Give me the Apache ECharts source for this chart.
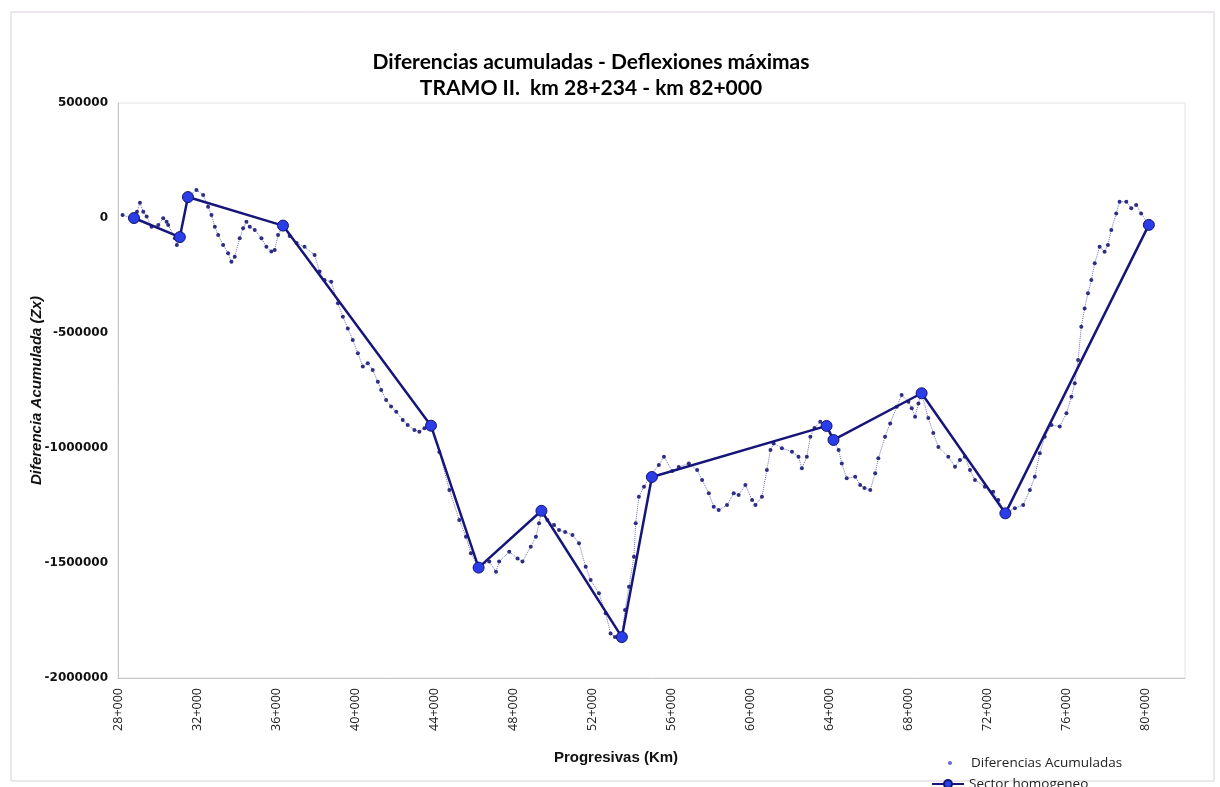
<!DOCTYPE html>
<html>
<head>
<meta charset="utf-8">
<script src="https://cdn.jsdelivr.net/npm/echarts@6/dist/echarts.min.js"></script>
<style>
  html, body { margin: 0; padding: 0; background: #ffffff; }
  #chart { width: 1220px; height: 787px; }
</style>
</head>
<body>
<div id="chart"></div>
<script>
// Progresiva (km) of each measured station
const progresivaKm = [
  28.23, 28.81, 28.96, 29.11, 29.28, 29.45, 29.70, 30.04, 30.29, 30.46,
  30.54, 30.88, 30.98, 31.13, 31.54, 31.97, 32.31, 32.56, 32.73, 32.90,
  33.07, 33.32, 33.57, 33.74, 33.91, 34.16, 34.33, 34.50, 34.67, 34.92,
  35.26, 35.51, 35.76, 35.93, 36.10, 36.35, 36.69, 37.04, 37.44, 37.95,
  38.20, 38.45, 38.79, 39.13, 39.38, 39.63, 39.88, 40.14, 40.39, 40.64,
  40.89, 41.15, 41.32, 41.57, 41.82, 42.08, 42.41, 42.66, 43.00, 43.25,
  43.51, 43.84, 44.26, 44.77, 45.27, 45.61, 45.86, 46.25, 46.79, 47.13,
  47.29, 47.80, 48.22, 48.47, 48.89, 49.15, 49.31, 49.43, 49.73, 50.07,
  50.32, 50.63, 51.00, 51.33, 51.67, 51.92, 52.34, 52.68, 52.93, 53.15,
  53.50, 53.66, 53.86, 54.11, 54.20, 54.36, 54.62, 54.97, 55.37, 55.63,
  56.05, 56.38, 56.89, 57.31, 57.56, 57.90, 58.15, 58.40, 58.82, 59.16,
  59.41, 59.75, 60.09, 60.26, 60.59, 60.84, 61.02, 61.18, 61.60, 62.11,
  62.44, 62.61, 62.86, 63.04, 63.25, 63.54, 63.86, 64.21, 64.47, 64.63,
  64.88, 65.31, 65.56, 65.78, 66.07, 66.32, 66.48, 66.82, 67.08, 67.41,
  67.66, 68.00, 68.17, 68.34, 68.51, 68.67, 69.01, 69.26, 69.52, 70.02,
  70.36, 70.61, 70.86, 71.12, 71.37, 71.87, 72.29, 72.55, 72.91, 73.39,
  73.81, 74.15, 74.40, 74.65, 74.90, 75.24, 75.66, 76.00, 76.25, 76.42,
  76.59, 76.75, 76.92, 77.09, 77.26, 77.43, 77.68, 77.93, 78.10, 78.27,
  78.52, 78.69, 79.03, 79.28, 79.53, 79.78, 80.17
];

// Diferencia acumulada (Zx) at each station
const diferenciaAcum = [
  13000, -4000, 27000, 66000, 27000, 6000, -38000, -30000, -1000, -16000,
  -30000, -88000, -117000, -83000, 91000, 122000, 100000, 49000, 13000, -38000,
  -74000, -117000, -153000, -190000, -168000, -88000, -45000, -16000, -38000, -52000,
  -88000, -125000, -146000, -139000, -74000, -33000, -78000, -109000, -125000, -161000,
  -233000, -270000, -277000, -371000, -429000, -480000, -530000, -588000, -646000, -632000,
  -661000, -712000, -748000, -791000, -820000, -842000, -878000, -900000, -922000, -929000,
  -914000, -903000, -1017000, -1183000, -1313000, -1386000, -1458000, -1520000, -1494000, -1538000,
  -1494000, -1451000, -1480000, -1494000, -1429000, -1386000, -1327000, -1273000, -1313000, -1335000,
  -1357000, -1365000, -1378000, -1414000, -1516000, -1574000, -1632000, -1719000, -1806000, -1822000,
  -1822000, -1704000, -1603000, -1473000, -1327000, -1212000, -1168000, -1117000, -1074000, -1038000,
  -1100000, -1083000, -1067000, -1096000, -1139000, -1197000, -1255000, -1270000, -1248000, -1197000,
  -1204000, -1161000, -1226000, -1248000, -1212000, -1096000, -1009000, -980000, -1001000, -1016000,
  -1038000, -1088000, -1038000, -951000, -913000, -886000, -904000, -965000, -1009000, -1067000,
  -1132000, -1125000, -1161000, -1174000, -1183000, -1110000, -1045000, -951000, -893000, -821000,
  -770000, -799000, -827000, -864000, -806000, -762000, -870000, -935000, -996000, -1038000,
  -1081000, -1052000, -1038000, -1096000, -1139000, -1168000, -1190000, -1226000, -1284000, -1262000,
  -1248000, -1183000, -1125000, -1023000, -951000, -900000, -907000, -849000, -777000, -719000,
  -617000, -473000, -393000, -327000, -270000, -197000, -125000, -147000, -117000, -52000,
  20000, 71000, 71000, 42000, 57000, 20000, -30000
];

// Break points of the homogeneous sectors
const sectorKm = [28.81, 31.13, 31.54, 36.35, 43.84, 46.25, 49.43, 53.50, 55.02, 63.86, 64.21, 68.67, 72.91, 80.17];
const sectorZx = [0, -83000, 91000, -33000, -903000, -1520000, -1273000, -1822000, -1126000, -904000, -965000, -762000, -1284000, -30000];

// Axis tick labels
const xTickLabels = ['28+000', '32+000', '36+000', '40+000', '44+000', '48+000', '52+000',
                     '56+000', '60+000', '64+000', '68+000', '72+000', '76+000', '80+000'];
const xTickStartKm = 28;
const xTickStepKm = 4;

const serieNames = ['Diferencias Acumuladas', 'Sector homogeneo'];

const zip = (xs, ys) => xs.map((x, i) => [x, ys[i]]);

const legendText = { fontFamily: 'Open Sans', fontSize: 13.5, color: '#222222' };

const chart = echarts.init(document.getElementById('chart'), null, { renderer: 'canvas' });

chart.setOption({
  animation: false,
  backgroundColor: '#ffffff',
  title: {
    text: 'Diferencias acumuladas - Deflexiones máximas\nTRAMO II.  km 28+234 - km 82+000',
    left: 586,
    top: 44,
    textAlign: 'center',
    textStyle: {
      fontFamily: 'Lato',
      fontWeight: 'bold',
      fontSize: 21,
      lineHeight: 26,
      color: '#000000'
    }
  },
  graphic: [{
    type: 'rect',
    shape: { x: 11, y: 12, width: 1203, height: 769 },
    style: { fill: 'none', stroke: '#d9cfd9', lineWidth: 1 },
    silent: true,
    z: -1
  }],
  legend: [
    {
      left: 933,
      top: 756,
      padding: 0,
      itemWidth: 32,
      itemHeight: 5,
      itemGap: 0,
      textStyle: legendText,
      data: [{ name: serieNames[0], lineStyle: { opacity: 0 }, itemStyle: { color: '#6a6ad0' } }]
    },
    {
      left: 931,
      top: 777,
      padding: 0,
      itemWidth: 32,
      itemHeight: 10,
      itemGap: 0,
      textStyle: legendText,
      data: [{ name: serieNames[1] }]
    }
  ],
  grid: {
    left: 118,
    right: 35,
    top: 103,
    bottom: 109,
    show: true,
    borderColor: '#e8e2e8',
    borderWidth: 1
  },
  xAxis: {
    type: 'value',
    min: 28,
    max: 82,
    interval: 4,
    name: 'Progresivas (Km)',
    nameLocation: 'middle',
    nameGap: 72,
    nameTextStyle: {
      fontFamily: 'Liberation Sans',
      fontWeight: 'bold',
      fontSize: 15,
      color: '#111111',
      padding: [0, 71, 0, 0]
    },
    axisLine: { show: true, onZero: false, lineStyle: { color: '#c8c8c8', width: 1 } },
    axisTick: { show: false },
    splitLine: { show: false },
    axisLabel: {
      rotate: 90,
      margin: 10,
      fontFamily: 'Open Sans',
      fontSize: 12.5,
      color: '#222222',
      showMaxLabel: false,
      formatter: v => xTickLabels[Math.round((v - xTickStartKm) / xTickStepKm)] || ''
    }
  },
  yAxis: {
    type: 'value',
    min: -2000000,
    max: 500000,
    interval: 500000,
    name: 'Diferencia Acumulada (Zx)',
    nameLocation: 'middle',
    nameGap: 74,
    nameMoveOverlap: false,
    nameTextStyle: {
      fontFamily: 'Liberation Sans',
      fontWeight: 'bold',
      fontStyle: 'italic',
      fontSize: 15,
      color: '#111111'
    },
    axisLine: { show: true, lineStyle: { color: '#c8c8c8', width: 1 } },
    axisTick: { show: false },
    splitLine: { show: false },
    axisLabel: {
      margin: 10,
      fontFamily: 'DejaVu Sans',
      fontWeight: 'bold',
      fontSize: 12,
      color: '#111111',
      formatter: v => String(v)
    }
  },
  series: [
    {
      name: serieNames[0],
      type: 'line',
      data: zip(progresivaKm, diferenciaAcum),
      symbol: 'circle',
      symbolSize: 4,
      showAllSymbol: true,
      itemStyle: { color: '#2d2d85' },
      lineStyle: { color: '#7070c0', width: 1, type: 'dotted' },
      z: 2
    },
    {
      name: serieNames[1],
      type: 'line',
      data: zip(sectorKm, sectorZx),
      symbol: 'circle',
      symbolSize: 11,
      showAllSymbol: true,
      itemStyle: { color: '#2a3de6', borderColor: '#141478', borderWidth: 1 },
      lineStyle: { color: '#16167a', width: 2.5 },
      z: 3
    }
  ]
});
</script>
</body>
</html>
